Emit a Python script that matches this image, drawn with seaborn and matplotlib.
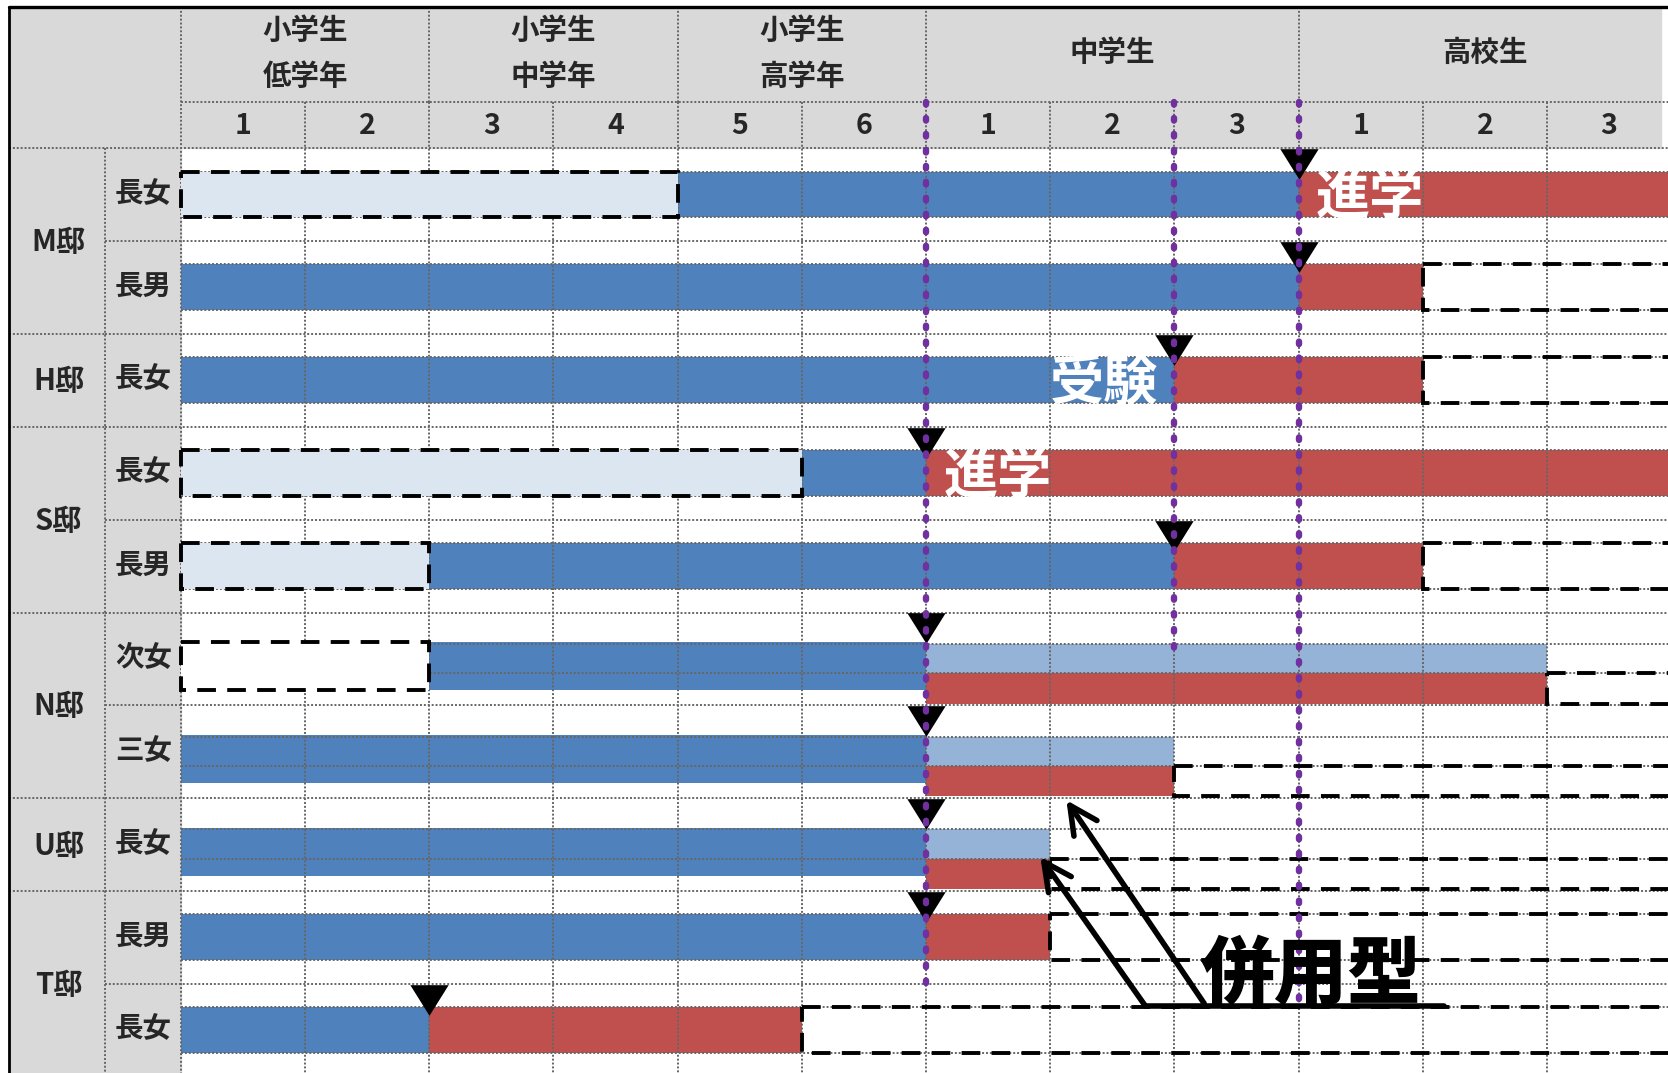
import numpy as np
import seaborn as sns
import matplotlib.pyplot as plt
from matplotlib.patches import Rectangle

# ---- data ----
houses = ["M邸", "H邸", "S邸", "N邸", "U邸", "T邸"]
house_size = [2, 1, 2, 2, 1, 2]
children = ["長女", "長男", "長女", "長女", "長男", "次女", "三女", "長女", "長男", "長女"]

# school years counted from start of 小1 (=0) to end of 高3 (=12)
pre_start = [0, None, None, 0, 0, 0, None, None, None, None]
pre_fill = ["#DCE6F1", None, None, "#DCE6F1", "#DCE6F1", "white", None, None, None, None]
blue_start = [4, 0, 0, 5, 2, 2, 0, 0, 0, 0]
turn = [9, 9, 8, 6, 8, 6, 6, 6, 6, 2]
red_end = [12, 10, 10, 12, 10, 11, 8, 7, 7, 5]
dual = [0, 0, 0, 0, 0, 1, 1, 1, 0, 0]
notes = [(0, "進学", "after"), (2, "受験", "before"), (3, "進学", "after")]

groups = [["小学生", "低学年"], ["小学生", "中学年"], ["小学生", "高学年"], ["中学生"], ["高校生"]]
group_edges = [0, 2, 4, 6, 9, 12]
grades = [1, 2, 3, 4, 5, 6, 1, 2, 3, 1, 2, 3]

guide_x = [6, 8, 9]
guide_end = [9.12, 5.44, 9.19]

BLUE = "#4F81BD"
RED = "#C0504D"
LIGHT = "#95B3D7"
GRAY = "#D9D9D9"
TXT = "#262626"

sns.set_theme(style="white")
plt.rcParams['font.family'] = ['Noto Sans CJK JP', 'DejaVu Sans']

fig = plt.figure(figsize=(16.68, 10.73), dpi=100)
ax = fig.add_axes([0, 0, 1, 1])
ax.set_xlim(-1.456, 11.974)
ax.set_ylim(9.958, -1.597)
ax.axis("off")

LEFT = -1.384
MID = -0.61
TOP = -1.518
NUMTOP = -0.502
BOTTOM = 10.2
RIGHT = 13

# header and label column backgrounds
ax.add_patch(Rectangle((LEFT, TOP), 11.917 - LEFT, -TOP, color=GRAY, zorder=0))
ax.add_patch(Rectangle((LEFT, 0), -LEFT, BOTTOM, color=GRAY, zorder=0))

n = len(children)
rows = np.arange(n)


def bar_span(r):
    return (0.315, 0.835) if dual[r] else (0.25, 0.745)


dash = (0, (4.8, 2.9))
for r in rows:
    t, b = bar_span(r)
    # before (dashed) box
    if pre_start[r] is not None:
        ax.barh(r + t, blue_start[r] - pre_start[r], left=pre_start[r], height=b - t, align="edge",
                color=pre_fill[r], edgecolor="black", linewidth=2.8, linestyle=dash, zorder=4)
    ax.barh(r + t, turn[r] - blue_start[r], left=blue_start[r], height=b - t, align="edge",
            color=BLUE, linewidth=0, zorder=2)
    if dual[r]:
        ax.barh(r + 0.335, red_end[r] - turn[r], left=turn[r], height=0.32, align="edge",
                color=LIGHT, linewidth=0, zorder=2)
        rt, rb = 0.655, 0.98
    else:
        rt, rb = t, b
    ax.barh(r + rt, red_end[r] - turn[r], left=turn[r], height=rb - rt, align="edge",
            color=RED, linewidth=0, zorder=2)
    # after (dashed, open) box
    if red_end[r] < 12:
        ax.barh(r + rt, RIGHT - red_end[r], left=red_end[r], height=rb - rt, align="edge",
                fill=False, edgecolor="black", linewidth=2.8, linestyle=dash, zorder=4)

# spreadsheet grid
gkw = dict(color="#666666", linewidth=1.4, linestyles=(0, (1, 1)), zorder=3)
ax.vlines(np.arange(1, 12), NUMTOP, BOTTOM, **gkw)
ax.vlines(group_edges[1:-1], TOP, NUMTOP, **gkw)
ax.vlines(0, TOP, BOTTOM, **gkw)
ax.vlines(MID, 0, BOTTOM, **gkw)
ax.hlines(NUMTOP, 0, RIGHT, **gkw)
ax.hlines(0, LEFT, RIGHT, **gkw)
ax.hlines(rows[1:], MID, RIGHT, **gkw)
ax.hlines(np.cumsum(house_size)[:-1], LEFT, MID, **gkw)
for r in rows:
    if dual[r]:
        ax.hlines([r + 0.335, r + 0.655], 0, RIGHT, **gkw)
    else:
        ax.hlines([r + 0.25, r + 0.745], 0, RIGHT, **gkw)

# outer border
ax.plot([LEFT, RIGHT], [TOP, TOP], color="black", linewidth=2.4, zorder=8)
ax.plot([LEFT, LEFT], [TOP, BOTTOM], color="black", linewidth=2.0, zorder=8)

# header texts
for i, lines in enumerate(groups):
    xc = (group_edges[i] + group_edges[i + 1]) / 2
    if len(lines) == 2:
        ax.text(xc, -1.26, lines[0], ha="center", va="center", fontsize=20.5, fontweight="bold", color=TXT)
        ax.text(xc, -0.77, lines[1], ha="center", va="center", fontsize=20.5, fontweight="bold", color=TXT)
    else:
        ax.text(xc, -1.03, lines[0], ha="center", va="center", fontsize=20.5, fontweight="bold", color=TXT)
for i, g in enumerate(grades):
    ax.text(i + 0.5, -0.235, str(g), ha="center", va="center", fontsize=20.5, fontweight="bold", color=TXT)

# row labels
for r, c in enumerate(children):
    ax.text(-0.30, r + 0.49, c, ha="center", va="center", fontsize=20.5, fontweight="bold", color=TXT)
start = 0
for h, s in zip(houses, house_size):
    ax.text(-0.985, start + s / 2 + 0.01, h, ha="center", va="center", fontsize=21,
            fontweight="bold", color=TXT)
    start += s

# guide lines (purple dotted)
for gx, ge in zip(guide_x, guide_end):
    ax.plot([gx, gx], [-0.5, ge], color="#7030A0", linewidth=4.6, linestyle=(0, (0.4, 2.1)),
            dash_capstyle="round", zorder=7)

# switch markers
tri = [(-1, 0.8), (1, 0.8), (0, -0.8)]
ax.scatter(turn, rows + 0.17, marker=tri, s=760, color="black", linewidths=0, zorder=6)

# notes on bars
for r, txt, side in notes:
    if side == "after":
        ax.text(turn[r] + 0.14, r + 0.54, txt, ha="left", va="center", fontsize=39,
                fontweight="bold", color="white", zorder=9)
    else:
        ax.text(turn[r] - 0.13, r + 0.54, txt, ha="right", va="center", fontsize=39,
                fontweight="bold", color="white", zorder=9)

# 併用型 callout
akw = dict(arrowstyle="->", lw=4.0, color="black", mutation_scale=50, shrinkA=0, shrinkB=0)
ax.annotate("", xy=(6.92, 7.63), xytext=(7.76, 9.225), arrowprops=akw, zorder=9)
ax.annotate("", xy=(7.13, 7.02), xytext=(8.24, 9.21), arrowprops=akw, zorder=9)
ax.plot([7.76, 10.17], [9.236, 9.236], color="black", linewidth=4, zorder=9)
ax.text(9.10, 8.91, "併用型", ha="center", va="center", fontsize=53, fontweight="black",
        color="black", zorder=9)

fig.savefig("out.png", dpi=100)
